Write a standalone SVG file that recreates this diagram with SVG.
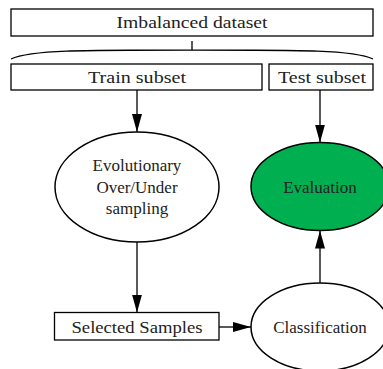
<svg xmlns="http://www.w3.org/2000/svg" width="383" height="369" viewBox="0 0 383 369">
<defs>
<marker id="ah" viewBox="0 0 18 10" refX="18" refY="5" markerWidth="18" markerHeight="10" markerUnits="userSpaceOnUse" orient="auto">
<path d="M0,0 L18,5 L0,10 Z" fill="#000"/>
</marker>
<style>
.box{fill:#fff;stroke:#000;stroke-width:1.3}
.ell{fill:#fff;stroke:#000;stroke-width:1.5}
.bt{font-size:16px;fill:#222;text-anchor:middle}
.et{font-size:17px;fill:#222;text-anchor:middle}
.cn{fill:none;stroke:#000;stroke-width:1.3}
</style>
</defs>
<rect width="383" height="369" fill="#fff"/>
<g id="imbalanced">
<rect class="box" x="11" y="9" width="362" height="27"/>
<text class="bt" font-family="'Liberation Serif', serif" x="192" y="28" textLength="151" lengthAdjust="spacingAndGlyphs">Imbalanced dataset</text>
</g>
<g id="brace">
<path class="cn" d="M11,59 C30,50 80,50 192,50 C304,50 354,50 373,59 M192,41 V50"/>
</g>
<g id="train">
<rect class="box" x="11" y="64" width="251" height="26"/>
<text class="bt" font-family="'Liberation Serif', serif" x="137" y="83" textLength="98" lengthAdjust="spacingAndGlyphs">Train subset</text>
</g>
<g id="test">
<rect class="box" x="269" y="64" width="104" height="26"/>
<text class="bt" font-family="'Liberation Serif', serif" x="322" y="83" textLength="88" lengthAdjust="spacingAndGlyphs">Test subset</text>
</g>
<g id="evolutionary">
<ellipse class="ell" cx="137" cy="187" rx="82" ry="55"/>
<g font-family="'Liberation Serif', serif">
<text class="et" x="137" y="171">Evolutionary</text>
<text class="et" x="137" y="193">Over/Under</text>
<text class="et" x="137" y="214">sampling</text>
</g>
</g>
<g id="evaluation">
<ellipse class="ell" cx="320" cy="186.5" rx="69" ry="44" style="fill:#00b050"/>
<text class="et" font-family="'Liberation Serif', serif" x="320" y="193">Evaluation</text>
</g>
<g id="selected">
<rect class="box" x="54.5" y="312.5" width="164.5" height="27.5"/>
<text class="bt" font-family="'Liberation Serif', serif" x="137" y="333" textLength="131" lengthAdjust="spacingAndGlyphs">Selected Samples</text>
</g>
<g id="classification">
<ellipse class="ell" cx="320" cy="327" rx="69" ry="44"/>
<text class="et" font-family="'Liberation Serif', serif" x="320" y="333">Classification</text>
</g>
<g id="connectors">
<path class="cn" d="M137,90 V132" marker-end="url(#ah)"/>
<path class="cn" d="M320,90 V142.5" marker-end="url(#ah)"/>
<path class="cn" d="M137,242 V312.5" marker-end="url(#ah)"/>
<path class="cn" d="M219,327 H251" marker-end="url(#ah)"/>
<path class="cn" d="M320,283 V230.5" marker-end="url(#ah)"/>
</g>
</svg>
